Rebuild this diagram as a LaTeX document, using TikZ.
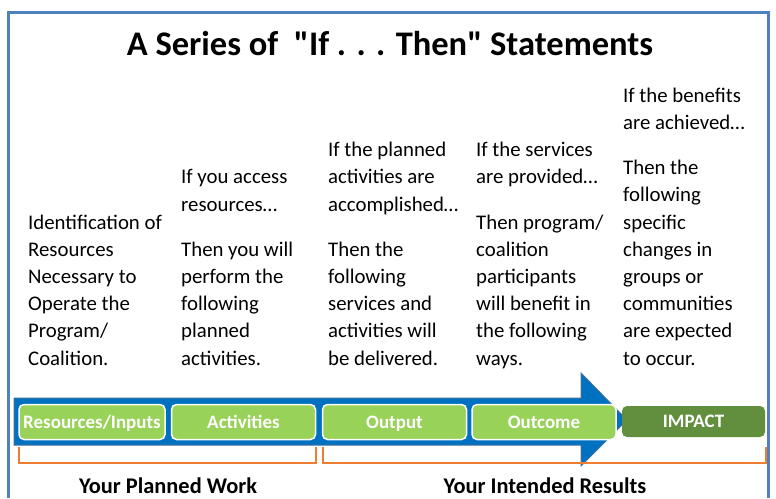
\documentclass[tikz,border=0pt]{standalone}
\usepackage{fontspec}
\setmainfont{Carlito}[Ligatures=TeXOff]
\usetikzlibrary{positioning}

\definecolor{framecol}{RGB}{79,129,189}
\definecolor{arrowfill}{RGB}{0,112,192}
\definecolor{arrowedge}{RGB}{65,113,156}
\definecolor{stagegreen}{RGB}{152,210,88}
\definecolor{impactgreen}{RGB}{97,143,61}
\definecolor{bracketcol}{RGB}{237,125,49}

\tikzset{
    stage/.style={draw=white, line width=1.5pt, fill=stagegreen, rounded corners=5pt,
        minimum width=144pt, minimum height=35pt, inner sep=0pt,
        text height=14pt, text depth=2pt,
        text=white, font=\fontsize{19}{21}\selectfont\bfseries},
    impactstage/.style={stage, draw=none, fill=impactgreen, minimum height=31pt},
    statement/.style={anchor=base west, align=left, inner sep=0pt,
        font=\fontsize{20.8}{27.2}\selectfont},
    bracket/.style={draw=bracketcol, line width=2pt},
    worklabel/.style={anchor=base, inner sep=0pt, font=\fontsize{22.4}{26}\selectfont\bfseries}
}

\begin{document}
\begin{tikzpicture}[x=1pt, y=-1pt]
        \useasboundingbox (0,0) rectangle (776,498);

        % outer frame, open at the bottom
        \draw [framecol, line width=3pt] (8.5,498) -- (8.5,12.5) -- (768.5,12.5) -- (768.5,498);

        \node (title) [anchor=base, inner sep=0pt, font=\fontsize{34.5}{38}\selectfont\bfseries]
            at (390, 55) {A Series of\ \ "If . . . Then" Statements};

        % the statements above each stage, all sitting on the same last line
        \node (resText) [statement] at (28, 365)
            {Identification of\\Resources\\Necessary to\\Operate the\\Program/\\Coalition.};
        \node (actText) [statement] at (181, 365)
            {If you access\\resources…\\[18pt]Then you will\\perform the\\following\\planned\\activities.};
        \node (outText) [statement] at (328, 365)
            {If the planned\\activities are\\accomplished…\\[18pt]Then the\\following\\services and\\activities will\\be delivered.};
        \node (ocText) [statement] at (476, 365)
            {If the services\\are provided…\\[18pt]Then program/\\coalition\\participants\\will benefit in\\the following\\ways.};
        \node (impText) [statement] at (623, 365)
            {If the benefits\\are achieved…\\[18pt]Then the\\following\\specific\\changes in\\groups or\\communities\\are expected\\to occur.};

        % big blue arrow behind the stages
        \draw [fill=arrowfill, draw=arrowedge, line width=1pt]
            (14,398) -- (581,398) -- (581,373) -- (627,420) -- (581,466) -- (581,445) -- (14,445) -- cycle;

        \node (res) [stage, minimum width=146pt] at (92, 422) {Resources/Inputs};
        \node (act) [stage] at (243.5, 422) {Activities};
        \node (out) [stage] at (394.5, 422) {Output};
        \node (oc) [stage] at (544, 422) {Outcome};
        \node (imp) [impactstage, minimum width=143pt] at (693.5, 421.5) {IMPACT};

        % brackets under the stages
        \draw [bracket] (19,447) -- (19,463) -- (316,463) -- (316,447);
        \draw [bracket] (323,447) -- (323,463) -- (766,463) -- (766,447);

        \node (work) [worklabel] at (168, 493) {Your Planned Work};
        \node (results) [worklabel] at (545, 493) {Your Intended Results};
    \end{tikzpicture}
\end{document}
